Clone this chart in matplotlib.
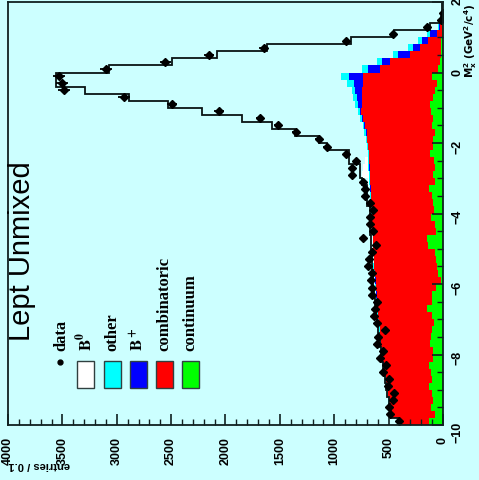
import numpy as np
import matplotlib.pyplot as plt
from matplotlib.patches import Rectangle
from matplotlib.ticker import MultipleLocator

plt.rcParams['font.family'] = ['Liberation Sans', 'DejaVu Sans']
plt.rcParams['font.weight'] = 'bold'

BG = '#ccffff'
W, H = 479, 481

# M_x^2 bins, 0.2 GeV^2/c^4 wide, listed from -10 up to +2
bin_edges = np.round(np.arange(-10.0, 2.0001, 0.2), 2)
bin_centres = 0.5 * (bin_edges[:-1] + bin_edges[1:])

data_counts = [402, 487, 494, 462, 451, 503, 494, 554, 524, 579,
               549, 610, 595, 533, 610, 634, 625, 604, 656, 656,
               662, 656, 687, 678, 656, 616, 738, 641, 671, 671,
               641, 671, 717, 717, 733, 834, 839, 800, 892, 1067,
               1140, 1352, 1517, 1683, 2060, 2492, 2933, 3485, 3503, 3531,
               3099, 2556, 2150, 1650, 892, 460, 147, 22, 4, 0]

fit_total = [400, 480, 490, 500, 515, 525, 535, 545, 555, 565,
             572, 580, 590, 598, 605, 612, 620, 625, 635, 640,
             645, 648, 650, 655, 660, 662, 665, 668, 670, 670,
             675, 695, 700, 700, 745, 760, 760, 865, 865, 1070,
             1137, 1361, 1570, 1851, 2216, 2529, 2887, 3292, 3559, 3559,
             3071, 2492, 2080, 1620, 849, 448, 120, 15, 12, 12]

continuum = [130, 74, 110, 90, 105, 125, 100, 110, 130, 95,
             90, 120, 110, 100, 85, 100, 147, 100, 100, 60,
             20, 45, 55, 60, 75, 140, 147, 65, 70, 110,
             85, 90, 100, 129, 75, 90, 70, 80, 120, 92,
             92, 74, 100, 92, 110, 120, 92, 74, 58, 104,
             49, 28, 20, 15, 15, 12, 10, 10, 8, 5]

combinatoric = [262, 396, 375, 405, 400, 390, 425, 425, 415, 455,
                470, 450, 465, 480, 505, 495, 453, 505, 510, 555,
                600, 580, 575, 570, 560, 500, 493, 580, 580, 540,
                570, 570, 560, 536, 593, 582, 605, 600, 560, 598,
                607, 625, 617, 644, 644, 625, 653, 671, 678, 634,
                530, 459, 283, 196, 123, 43, 15, 5, 2, 0]

b_plus = [2, 3, 2, 2, 3, 2, 2, 2, 3, 2,
          2, 3, 2, 2, 2, 3, 2, 2, 3, 2,
          2, 2, 3, 2, 2, 3, 2, 2, 3, 2,
          2, 3, 2, 2, 3, 3, 4, 3, 3, 3,
          3, 5, 5, 10, 10, 37, 46, 64, 83, 129,
          110, 74, 110, 64, 55, 65, 15, 3, 0, 0]

other = [6, 5, 7, 6, 6, 5, 6, 7, 6, 5,
         6, 6, 7, 5, 6, 6, 5, 7, 6, 6,
         5, 6, 7, 6, 6, 5, 6, 6, 7, 6,
         5, 6, 6, 7, 8, 8, 10, 8, 10, 10,
         10, 18, 18, 18, 18, 28, 37, 28, 64, 74,
         55, 46, 46, 46, 37, 30, 10, 5, 2, 0]

b_zero = [0, 0, 0, 0, 0, 0, 0, 0, 0, 0,
          0, 0, 0, 0, 0, 0, 0, 0, 0, 0,
          0, 0, 0, 0, 0, 0, 0, 0, 0, 0,
          0, 0, 0, 0, 15, 62, 45, 25, 0, 0,
          0, 0, 0, 0, 0, 0, 0, 0, 0, 0,
          0, 0, 0, 0, 0, 0, 0, 0, 0, 0]

components = [
    ('continuum', continuum, '#00ff00'),
    ('combinatoric', combinatoric, '#ff0000'),
    ('B+', b_plus, '#0000ff'),
    ('other', other, '#00ffff'),
    ('B0', b_zero, '#ffffff'),
]

fig = plt.figure(figsize=(W / 100, H / 100), dpi=100, facecolor=BG)
ax = fig.add_axes([8 / W, 1 - 426 / H, 435 / W, 423 / H], facecolor=BG)

# stacked MC components, drawn sideways
bottom = np.zeros(len(bin_centres))
for name, vals, col in components:
    top = bottom + np.asarray(vals, dtype=float)
    ax.stairs(top, bin_edges, baseline=bottom, fill=True,
              orientation='horizontal', color=col, lw=0)
    bottom = top

ax.stairs(fit_total, bin_edges, baseline=None, orientation='horizontal',
          color='#0a1414', lw=1.3)

d = np.asarray(data_counts, dtype=float)
m = d > 0
ax.errorbar(d[m], bin_centres[m], xerr=np.sqrt(d[m]), fmt='D', ms=4.5,
            color='black', ecolor='black', elinewidth=1.3, capsize=0)

ax.set_xlim(4000, 0)
ax.set_ylim(-10, 2)

ax.xaxis.set_major_locator(MultipleLocator(500))
ax.xaxis.set_minor_locator(MultipleLocator(100))
ax.yaxis.set_major_locator(MultipleLocator(2))
ax.yaxis.set_minor_locator(MultipleLocator(0.5))
ax.yaxis.tick_right()
ax.tick_params(axis='both', which='both', direction='in', color='#102020')
ax.tick_params(axis='x', which='major', length=8, width=1.2, pad=8,
               labelrotation=90, labelsize=9)
ax.tick_params(axis='x', which='minor', length=4, width=1)
ax.tick_params(axis='y', which='major', length=8, width=1.2, pad=6,
               labelrotation=90, labelsize=9, left=False, right=True)
ax.tick_params(axis='y', which='minor', length=4, width=1, left=False, right=True)
for sp in ax.spines.values():
    sp.set_color('#102020')
    sp.set_linewidth(1.3)

def fx(px):
    return px / W

def fy(py):
    return 1 - py / H

fig.text(fx(22), fy(251), 'Lept Unmixed', rotation=90, fontsize=21,
         fontweight='normal', ha='center', va='center')

fig.text(fx(8), fy(465), 'entries / 0.1', rotation=180, fontsize=8,
         ha='left', va='center')
fig.text(fx(471), fy(4), r'$\mathbf{M_x^2\ (GeV^2/c^4)}$', rotation=90,
         fontsize=7.5, ha='center', va='top', math_fontfamily='dejavusans')

# legend
legend_font = dict(family='Liberation Serif', fontweight='bold', fontsize=12,
                   rotation=90, ha='center', va='bottom')
fig.text(fx(61), fy(351), 'data', **legend_font)
fig.add_artist(plt.Line2D([fx(60)], [fy(363)], marker='o', ms=3.5,
                          color='black', transform=fig.transFigure))
box_x = [77, 103.5, 130, 156, 182]
box_labels = [r'$\mathbf{B^0}$', 'other', r'$\mathbf{B^+}$', 'combinatoric', 'continuum']
box_cols = ['#ffffff', '#00ffff', '#0000ff', '#ff0000', '#00ff00']
for bx, lab, col in zip(box_x, box_labels, box_cols):
    fig.add_artist(Rectangle((fx(bx), fy(389)), 17 / W, 27 / H,
                             transform=fig.transFigure, facecolor=col,
                             edgecolor='#304040', lw=1))
    fig.text(fx(bx + 8.5), fy(351), lab, math_fontfamily='stix', **legend_font)

fig.savefig('out.png', dpi=100, facecolor=BG)
